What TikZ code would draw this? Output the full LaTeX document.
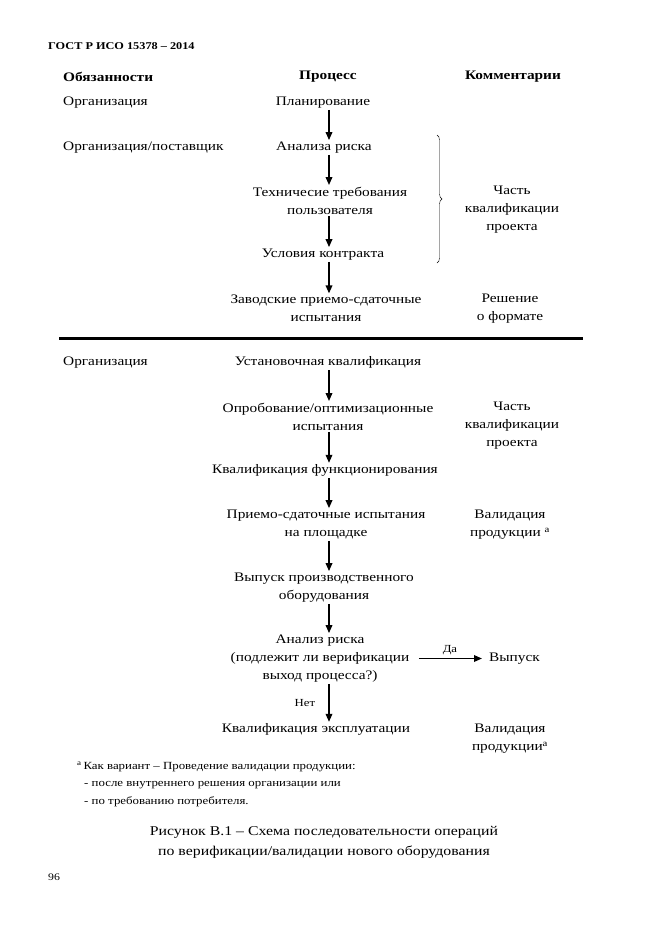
\documentclass[tikz,border=0pt]{standalone}
\usepackage{fontspec}
\setmainfont{Liberation Serif}[FakeStretch=1.18]
\usetikzlibrary{arrows.meta,decorations.pathreplacing,calc}
\begin{document}
\begin{tikzpicture}[x=1pt,y=-1pt,
  txt/.style={font=\fontsize{13}{18}\selectfont,inner sep=1.5pt,align=center,yshift=-2.5pt},
  ltxt/.style={txt,anchor=west,inner sep=0pt},
  foot/.style={font=\fontsize{10.9}{17}\selectfont,anchor=west,inner sep=0pt,yshift=-2pt},
  bold/.style={font=\fontsize{13}{18}\selectfont\bfseries,inner sep=0pt,yshift=-1.5pt},
  small/.style={font=\fontsize{10.8}{12}\selectfont,inner sep=0pt},
  arr/.style={line width=1.7pt,-{Triangle[length=8pt,width=6.5pt]}}]
\useasboundingbox (0,0) rectangle (661,935);
\fill[white] (0,0) rectangle (661,935);
\coordinate (ax) at (329,0);
% header
\node[anchor=west,inner sep=0pt,font=\fontsize{10.4}{12}\selectfont\bfseries] (gost) at (48,46) {ГОСТ Р ИСО 15378 – 2014};
\node[bold,anchor=west] (hobl) at (63,75) {Обязанности};
\node[bold] (hproc) at (328,75) {Процесс};
\node[bold] (hcomm) at (513,75) {Комментарии};
% upper part
\node[ltxt] (r1) at (63,100) {Организация};
\node[txt] (p1) at (323,100) {Планирование};
\node[ltxt] (r2) at (63,145) {Организация/поставщик};
\node[txt] (p2) at (324,145) {Анализа риска};
\node[txt] (p3) at (330,198) {Техничесие требования\\пользователя};
\node[txt] (p4) at (323,252) {Условия контракта};
\node[txt] (p5) at (326,306) {Заводские приемо-сдаточные\\испытания};
\node[txt] (c1) at (512,207) {Часть\\квалификации\\проекта};
\node[txt] (c2) at (510,306) {Решение\\о формате};
\coordinate (bt) at (437,135);
\coordinate (bb) at (437,263);
\draw[decorate,decoration={brace,amplitude=5pt}] (bt) -- (bb);
\draw[line width=3pt] (59,338) -- (583,338);
% lower part
\node[ltxt] (r3) at (63,360) {Организация};
\node[txt] (p6) at (328,360) {Установочная квалификация};
\node[txt] (p7) at (328,414) {Опробование/оптимизационные\\испытания};
\node[txt] (c3) at (512,423) {Часть\\квалификации\\проекта};
\node[txt] (p8) at (325,468) {Квалификация функционирования};
\node[txt] (p9) at (326,522) {Приемо-сдаточные испытания\\на площадке};
\node[txt] (c4) at (510,522) {Валидация\\продукции \textsuperscript{a}};
\node[txt] (p10) at (324,585) {Выпуск производственного\\оборудования};
\node[txt] (p11) at (320,656) {Анализ риска\\(подлежит ли верификации\\выход процесса?)};
\node[ltxt] (vyp) at (489,656) {Выпуск};
\node[txt] (p12) at (316,727) {Квалификация эксплуатации};
\node[txt] (c5) at (510,736) {Валидация\\продукции\textsuperscript{a}};
% arrows
\draw[arr] (p1.south -| ax) -- (p2.north -| ax);
\draw[arr] (p2.south -| ax) -- (p3.north -| ax);
\draw[arr] (p3.south -| ax) -- (p4.north -| ax);
\draw[arr] (p4.south -| ax) -- (p5.north -| ax);
\draw[arr] (p6.south -| ax) -- (p7.north -| ax);
\draw[arr] (p7.south -| ax) -- (p8.north -| ax);
\draw[arr] (p8.south -| ax) -- (p9.north -| ax);
\draw[arr] (p9.south -| ax) -- (p10.north -| ax);
\draw[arr] (p10.south -| ax) -- (p11.north -| ax);
\draw[arr] (p11.south -| ax) -- node[small,left=13pt,pos=0.5] (net) {Нет} (p12.north -| ax);
\draw[arr,shorten <=8pt,shorten >=7pt] (p11.east) -- node[small,above=3pt] (da) {Да} (vyp.west);
% footnote
\node[foot] (f1) at (77,765) {\textsuperscript{a}\,Как вариант – Проведение валидации продукции:};
\node[foot] (f2) at (84,783) {- после внутреннего решения организации или};
\node[foot] (f3) at (84,800) {- по требованию потребителя.};
\node[txt,font=\fontsize{13.4}{20}\selectfont] (cap) at (324,840) {Рисунок В.1 – Схема последовательности операций\\по верификации/валидации нового оборудования};
\node[anchor=west,inner sep=0pt,font=\fontsize{10}{12}\selectfont] (pg) at (48,877) {96};
\end{tikzpicture}
\end{document}
